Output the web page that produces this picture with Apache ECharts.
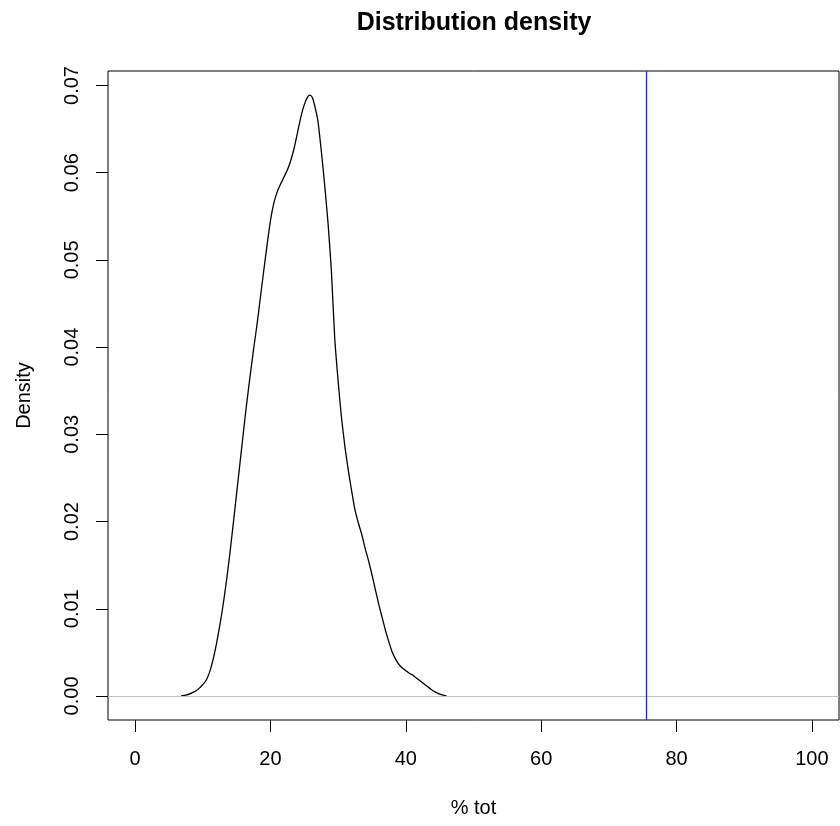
<!DOCTYPE html>
<html>
<head>
<meta charset="utf-8">
<script src="https://cdn.jsdelivr.net/npm/echarts@6/dist/echarts.min.js"></script>
<style>
html,body{margin:0;padding:0;background:#fff;}
#chart{width:840px;height:826px;}
</style>
</head>
<body>
<div id="chart"></div>
<script>
// Density curve (x = % tot, y = density)
const xValues = [6.8, 7.5, 8.0, 8.5, 9.0, 9.5, 10.0, 10.5, 11.0, 11.5, 12.0, 12.5, 13.0, 13.5, 14.0, 14.5, 15.0, 15.5, 16.0, 16.5, 17.0, 17.5, 18.0, 18.5, 19.0, 19.5, 20.0, 20.5, 21.0, 21.5, 22.0, 22.5, 23.0, 23.5, 24.0, 24.5, 25.0, 25.5, 25.85, 26.2, 26.5, 27.0, 27.5, 28.0, 28.5, 29.0, 29.5, 30.0, 30.5, 31.0, 31.5, 32.0, 32.5, 33.0, 33.5, 34.0, 34.5, 35.0, 35.5, 36.0, 36.5, 37.0, 37.5, 38.0, 38.5, 39.0, 39.5, 40.0, 40.5, 41.0, 41.5, 42.0, 42.5, 43.0, 43.5, 44.0, 44.5, 45.0, 45.5, 46.0];
const yValues = [0.0000, 0.0001, 0.0002, 0.0004, 0.0006, 0.0009, 0.0013, 0.0018, 0.0027, 0.0041, 0.0059, 0.0080, 0.0104, 0.0132, 0.0163, 0.0197, 0.0232, 0.0267, 0.0302, 0.0336, 0.0367, 0.0397, 0.0425, 0.0456, 0.0487, 0.0517, 0.0545, 0.0565, 0.0578, 0.0587, 0.0595, 0.0603, 0.0614, 0.0628, 0.0646, 0.0664, 0.0678, 0.0687, 0.0689, 0.0686, 0.0678, 0.0660, 0.0626, 0.0587, 0.0543, 0.0488, 0.0410, 0.0361, 0.0319, 0.0286, 0.0259, 0.0235, 0.0213, 0.0198, 0.0185, 0.0169, 0.0155, 0.0139, 0.0122, 0.0105, 0.0090, 0.0075, 0.0062, 0.0050, 0.0042, 0.0036, 0.0032, 0.0029, 0.0026, 0.0024, 0.0021, 0.0018, 0.0015, 0.0012, 0.0009, 0.0006, 0.0004, 0.0002, 0.0001, 0.0000];
const referenceX = 75.5;
const xTicks = [0, 20, 40, 60, 80, 100];
const yTicks = [0.00, 0.01, 0.02, 0.03, 0.04, 0.05, 0.06, 0.07];
const titleText = 'Distribution density';
const xTitle = '% tot';
const yTitle = 'Density';

const FONT = "'Liberation Sans', Arial, Helvetica, sans-serif";
const chart = echarts.init(document.getElementById('chart'), null, {renderer: 'canvas'});
const seriesData = xValues.map((x, i) => [x, yValues[i]]);

chart.setOption({
  animation: false,
  backgroundColor: '#ffffff',
  title: {
    text: titleText,
    left: 474, top: 11, textAlign: 'center', padding: 0,
    textStyle: {fontFamily: FONT, fontSize: 25, fontWeight: 'bold', color: '#000'}
  },
  grid: {
    left: 108, top: 71, right: 1, bottom: 106,
    show: true, borderColor: '#000', borderWidth: 1, backgroundColor: 'transparent'
  },
  xAxis: {
    type: 'value', min: -4, max: 104,
    name: xTitle, nameLocation: 'middle', nameGap: 78,
    nameTextStyle: {fontFamily: FONT, fontSize: 20, color: '#000'},
    axisLine: {show: false, onZero: false},
    splitLine: {show: false},
    axisTick: {show: true, length: 12, inside: false, customValues: xTicks, lineStyle: {color: '#000', width: 1}},
    axisLabel: {show: true, customValues: xTicks, margin: 29, fontFamily: FONT, fontSize: 20, color: '#000'}
  },
  yAxis: {
    type: 'value', min: -0.002756, max: 0.07166,
    name: yTitle, nameLocation: 'middle', nameGap: 74,
    nameTextStyle: {fontFamily: FONT, fontSize: 20, color: '#000'},
    axisLine: {show: false, onZero: false},
    splitLine: {show: false},
    axisTick: {show: true, length: 12, inside: false, customValues: yTicks, lineStyle: {color: '#000', width: 1}},
    axisLabel: {show: true, customValues: yTicks, rotate: 90, margin: 26, fontFamily: FONT, fontSize: 20, color: '#000',
      formatter: v => Number(v).toFixed(2)}
  },
  series: [{
    type: 'line',
    data: seriesData,
    showSymbol: false,
    smooth: 0.2,
    lineStyle: {color: '#000', width: 1.3},
    z: 3,
    markLine: {
      silent: true,
      symbol: ['none', 'none'],
      label: {show: false},
      data: [
        {yAxis: 0, lineStyle: {color: '#bebebe', width: 1, type: 'solid'}},
        {xAxis: referenceX, lineStyle: {color: '#2222ff', width: 1.3, type: 'solid'}}
      ]
    }
  }]
});
</script>
</body>
</html>
